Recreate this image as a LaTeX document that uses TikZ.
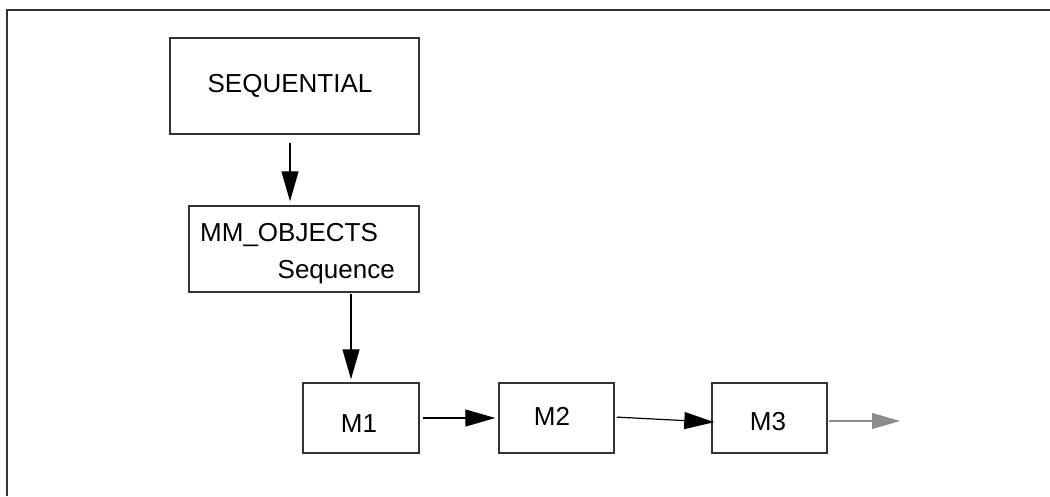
\documentclass[tikz,border=0pt]{standalone}
\usepackage{fontspec}
\setmainfont{Liberation Sans}
\usetikzlibrary{arrows.meta}
\definecolor{edge}{HTML}{333333}
\definecolor{greyarrow}{HTML}{8C8C8C}
\tikzset{
  box/.style={draw=edge, line width=1.4pt, rectangle, inner sep=0pt},
  txt/.style={inner sep=0pt, font=\fontsize{26}{30}\selectfont, text=black},
  conn/.style={draw=black, line width=1.2pt, -{Triangle[length=30pt,width=17pt]}},
  gconn/.style={draw=greyarrow, line width=1.2pt, -{Triangle[length=28pt,width=16pt]}},
}
\begin{document}
\begin{tikzpicture}[x=1pt,y=-1pt]
\useasboundingbox (0,0) rectangle (1050,496);
\draw[edge, line width=1.5pt] (7,496) -- (7,10) -- (1050,10);

\node[box, minimum width=249pt, minimum height=96pt] (seq) at (294.5,86) {};
\node[txt, anchor=base] (seqt) at (290,92) {SEQUENTIAL};

\node[box, minimum width=230pt, minimum height=86pt] (mm) at (304,249) {};
\node[txt, anchor=base west] (mmt1) at (200,241.5) {MM\_OBJECTS};
\node[txt, anchor=base east] (mmt2) at (395,278) {Sequence};

\node[box, minimum width=116pt, minimum height=70pt] (m1) at (361,418) {};
\node[txt, anchor=base] (m1t) at (359,432) {M1};
\node[box, minimum width=115pt, minimum height=70pt] (m2) at (556.5,418) {};
\node[txt, anchor=base] (m2t) at (552,425) {M2};
\node[box, minimum width=115pt, minimum height=70pt] (m3) at (769.5,418) {};
\node[txt, anchor=base] (m3t) at (768,430) {M3};
\coordinate (outend) at (900,421);

\draw[conn, shorten <=8pt, shorten >=4pt] ([xshift=-4.5pt]seq.south) -- ([xshift=-14pt]mm.north);
\draw[conn, shorten <=1pt, shorten >=3pt] ([xshift=47pt]mm.south) -- ([xshift=-10pt]m1.north);
\draw[conn, shorten <=3pt, shorten >=3pt] (m1.east) -- (m2.west);
\draw[conn, shorten <=2pt, shorten >=-3pt] ([yshift=1pt]m2.east) -- ([yshift=-4pt]m3.west);
\draw[gconn, shorten <=1pt] ([yshift=-3pt]m3.east) -- (outend);
\end{tikzpicture}
\end{document}
